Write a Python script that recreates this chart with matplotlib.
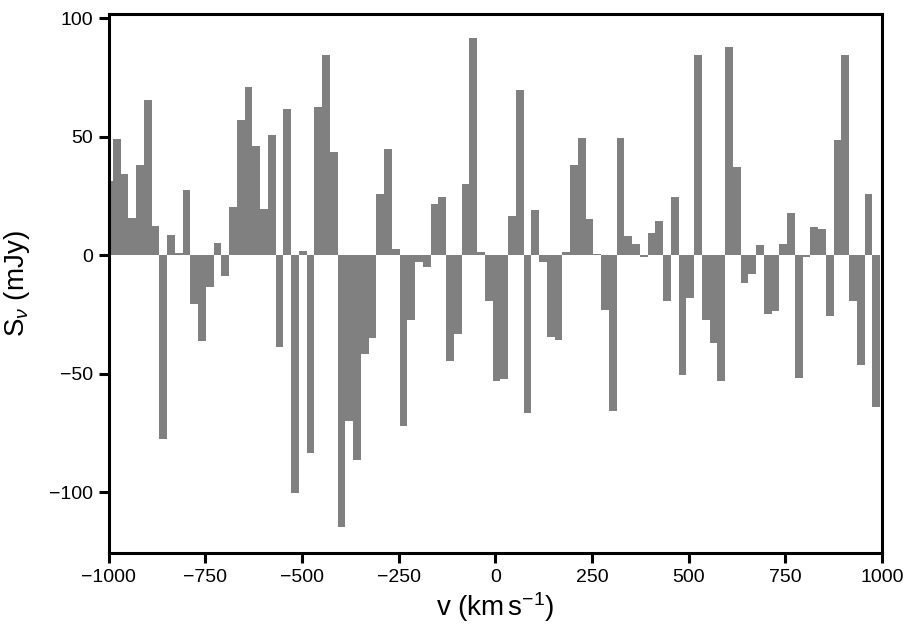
import numpy as np
import matplotlib.pyplot as plt

plt.rcParams['font.family'] = ['Liberation Sans', 'DejaVu Sans']
plt.rcParams['mathtext.fontset'] = 'custom'
plt.rcParams['mathtext.rm'] = 'Liberation Sans'
plt.rcParams['mathtext.it'] = 'Liberation Sans:italic'

# channel grid (km/s) and flux density per channel (mJy)
dv = 20.04
v = -999 + dv * np.arange(100)
flux = np.array([
    31.1, 48.8, 34.1, 15.5, 37.9, 65.3, 12.2, -77.5, 8.4, 0.7,
    27.3, -20.6, -36.1, -13.4, 4.9, -8.7, 20.2, 56.9, 71.1, 45.9,
    19.3, 50.5, -38.8, 61.5, -100.4, 1.6, -83.7, 62.3, 84.6, 43.4,
    -114.9, -70.2, -86.4, -41.7, -34.8, 25.7, 44.6, 2.5, -72.0, -27.3,
    -3.0, -4.9, 21.5, 24.4, -44.6, -33.2, 29.9, 91.4, 1.2, -19.4,
    -53.0, -52.1, 16.4, 69.5, -66.5, 18.9, -3.0, -34.5, -35.7, 1.2,
    37.9, 49.2, 15.1, 0.6, -23.2, -65.6, 49.2, 8.0, 4.6, -0.7,
    9.1, 14.2, -19.4, 24.4, -50.4, -18.0, 84.2, -27.3, -37.0, -53.0,
    87.7, 37.0, -11.8, -8.0, 4.2, -24.8, -23.5, 4.6, 17.7, -51.8,
    -0.7, 11.8, 10.9, -25.7, 48.5, 84.6, -19.4, -46.3, 25.7, -64.0,
])

fig = plt.figure(figsize=(9.16, 6.33), dpi=100)
ax = fig.add_axes([0.1187, 0.1264, 0.8443, 0.8507])

ax.bar(v, flux, width=dv, color='#808080', edgecolor='none', antialiased=False)

ax.set_xlim(-1000, 1000)
ax.set_ylim(-125.7, 101.5)
ax.set_xticks([-1000, -750, -500, -250, 0, 250, 500, 750, 1000])
ax.set_yticks([-100, -50, 0, 50, 100])

for s in ax.spines.values():
    s.set_linewidth(2.2)
ax.tick_params(direction='out', length=7.5, width=2.2, labelsize=14, pad=4)

ax.set_xlabel(r'v (km$\,$s$^{-1}$)', fontsize=20, labelpad=3)
ax.set_ylabel(r'S$_{\nu}$ (mJy)', fontsize=20, labelpad=12)

fig.savefig('out.png', dpi=100)
